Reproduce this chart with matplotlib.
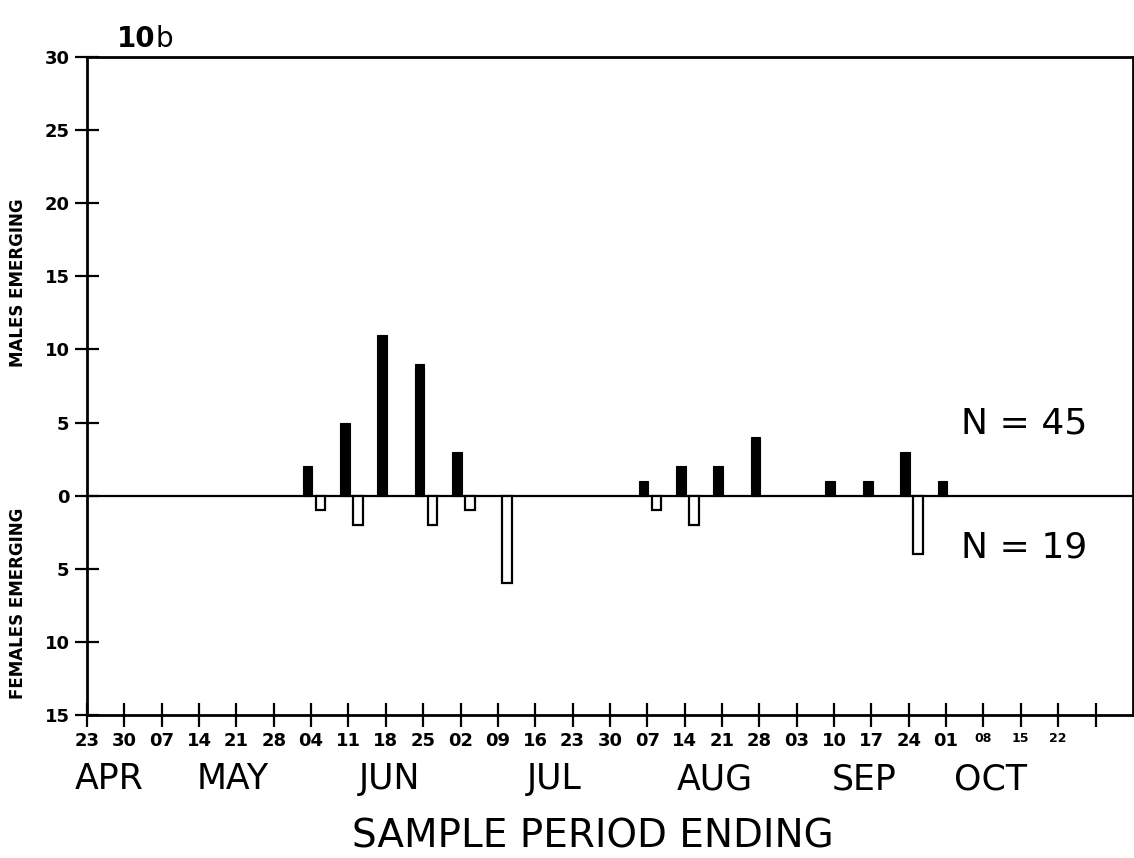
import matplotlib
matplotlib.use("Agg")
import matplotlib.pyplot as plt
import matplotlib.transforms as mtransforms

# ---------------------------------------------------------------------------
# Data: weekly sample periods (week index 0 = 23 Apr), counts emerging
# ---------------------------------------------------------------------------
TICK_LABELS = ["23", "30", "07", "14", "21", "28", "04", "11", "18", "25",
               "02", "09", "16", "23", "30", "07", "14", "21", "28", "03",
               "10", "17", "24", "01", "08", "15", "22", ""]
MONTHS = ["APR", "MAY", "JUN", "JUL", "AUG", "SEP", "OCT"]

MALE_WEEKS = [6, 7, 8, 9, 10, 15, 16, 17, 18, 20, 21, 22, 23]
MALE_COUNTS = [2, 5, 11, 9, 3, 1, 2, 2, 4, 1, 1, 3, 1]

FEMALE_WEEKS = [6, 7, 9, 10, 11, 15, 16, 22]
FEMALE_COUNTS = [1, 2, 2, 1, 6, 1, 2, 4]

Y_TICKS = [30, 25, 20, 15, 10, 5, 0, -5, -10, -15]

# layout only
MONTH_POS = [0.6, 3.9, 8.1, 12.5, 16.8, 20.8, 24.2]
BAR_W = 0.26

fig = plt.figure(figsize=(11.34, 8.58), dpi=100)
ax = fig.add_axes([0.0767, 0.1667, 0.9223, 0.7669])

ax.bar([w - 0.1 for w in MALE_WEEKS], MALE_COUNTS, width=BAR_W,
       color="black", edgecolor="black", linewidth=0.8, zorder=3)
ax.bar([w + 0.25 for w in FEMALE_WEEKS], [-c for c in FEMALE_COUNTS],
       width=BAR_W, color="white", edgecolor="black", linewidth=1.6, zorder=3)
ax.axhline(0, color="black", linewidth=1.6, zorder=2)

ax.set_xlim(0, len(TICK_LABELS))
ax.set_ylim(-15, 30)

ax.set_xticks(range(len(TICK_LABELS)))
ax.set_xticklabels(TICK_LABELS, fontsize=13, fontweight="bold")
for lbl in ax.get_xticklabels()[24:]:
    lbl.set_fontsize(9)
ax.set_yticks(Y_TICKS)
ax.set_yticklabels([str(abs(v)) for v in Y_TICKS], fontsize=13,
                   fontweight="bold")
ax.tick_params(direction="inout", length=17, width=1.6, pad=4, colors="black")

for sp in ax.spines.values():
    sp.set_linewidth(2.0)

trans = mtransforms.blended_transform_factory(ax.transData, fig.transFigure)
for name, pos in zip(MONTHS, MONTH_POS):
    ax.text(pos, 0.092, name, transform=trans, ha="center", va="center",
            fontsize=25)

fig.text(0.523, 0.003, "SAMPLE PERIOD ENDING", ha="center", va="bottom",
         fontsize=28)
fig.text(0.016, 0.670, "MALES EMERGING", rotation=90, ha="center",
         va="center", fontsize=12, fontweight="bold")
fig.text(0.016, 0.297, "FEMALES EMERGING", rotation=90, ha="center",
         va="center", fontsize=12, fontweight="bold")

fig.text(0.103, 0.945, "10", fontsize=20, fontweight="bold", ha="left",
         va="baseline")
fig.text(0.1375, 0.945, "b", fontsize=20, ha="left", va="baseline")

ax.text(23.4, 4.9, "N = 45", fontsize=26, ha="left", va="center")
ax.text(23.4, -3.55, "N = 19", fontsize=26, ha="left", va="center")

fig.savefig("out.png", dpi=100)
